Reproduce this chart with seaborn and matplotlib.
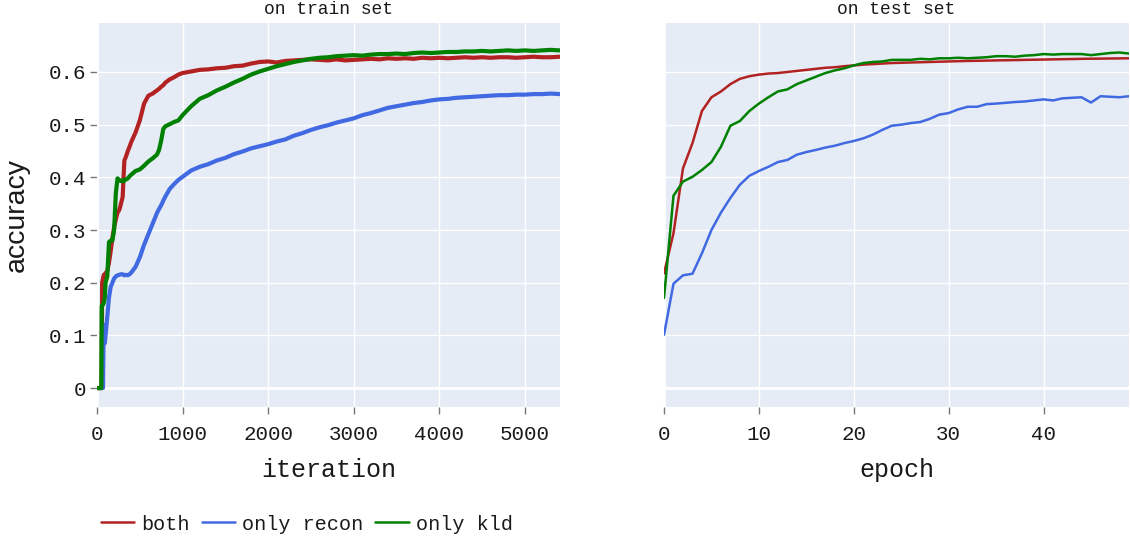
import pandas as pd
import matplotlib.pyplot as plt
import seaborn as sns

# training curves (iteration -> accuracy)
iteration = [0, 50, 55, 60, 70, 75, 80, 90, 100, 120, 140, 160, 180, 200, 220, 240, 260, 280,
             300, 310, 320, 340, 360, 380, 400, 450, 500, 550, 600, 650, 700, 725, 750, 775,
             800, 850, 900, 950, 1000, 1100, 1200, 1300, 1400, 1500, 1600, 1700, 1800, 1900,
             2000, 2100, 2200, 2300, 2400, 2500, 2600, 2700, 2800, 2900, 3000, 3100, 3200,
             3300, 3400, 3500, 3600, 3700, 3800, 3900, 4000, 4100, 4200, 4300, 4400, 4500,
             4600, 4700, 4800, 4900, 5000, 5100, 5200, 5300, 5410]
train_both = [0, 0, 0, 0.2, 0.208, 0.212, 0.215, 0.213, 0.218, 0.222, 0.238, 0.26, 0.285, 0.305,
              0.32, 0.333, 0.338, 0.35, 0.363, 0.40, 0.432, 0.44, 0.45, 0.458, 0.467, 0.485,
              0.508, 0.54, 0.555, 0.559, 0.565, 0.568, 0.572, 0.575, 0.58, 0.586, 0.59, 0.595,
              0.598, 0.601, 0.604, 0.605, 0.607, 0.608, 0.611, 0.612, 0.616, 0.619, 0.620,
              0.618, 0.621, 0.622, 0.623, 0.624, 0.623, 0.622, 0.624, 0.622, 0.623, 0.624,
              0.625, 0.624, 0.626, 0.625, 0.626, 0.625, 0.627, 0.626, 0.627, 0.626, 0.627,
              0.628, 0.627, 0.628, 0.627, 0.628, 0.628, 0.627, 0.628, 0.629, 0.628, 0.628, 0.629]
train_recon = [0, 0, 0, 0, 0, 0.07, 0.12, 0.085, 0.1, 0.135, 0.172, 0.192, 0.2, 0.208, 0.212,
               0.214, 0.215, 0.216, 0.216, 0.215, 0.214, 0.215, 0.214, 0.216, 0.219, 0.23,
               0.248, 0.272, 0.292, 0.312, 0.332, 0.34, 0.347, 0.356, 0.364, 0.378, 0.387,
               0.395, 0.401, 0.413, 0.42, 0.425, 0.432, 0.437, 0.444, 0.449, 0.455, 0.459,
               0.463, 0.468, 0.472, 0.479, 0.484, 0.49, 0.495, 0.499, 0.504, 0.508, 0.512,
               0.518, 0.522, 0.527, 0.532, 0.535, 0.538, 0.541, 0.543, 0.546, 0.548, 0.549,
               0.551, 0.552, 0.553, 0.554, 0.555, 0.556, 0.556, 0.557, 0.557, 0.558, 0.558,
               0.559, 0.558]
train_kld = [0, 0, 0.155, 0.157, 0.158, 0.16, 0.162, 0.17, 0.2, 0.212, 0.277, 0.28, 0.28, 0.30,
             0.37, 0.398, 0.395, 0.393, 0.394, 0.392, 0.395, 0.396, 0.398, 0.402, 0.405, 0.412,
             0.415, 0.422, 0.43, 0.436, 0.443, 0.452, 0.47, 0.492, 0.497, 0.501, 0.505, 0.508,
             0.518, 0.535, 0.549, 0.556, 0.565, 0.572, 0.58, 0.587, 0.595, 0.601, 0.606,
             0.611, 0.615, 0.619, 0.622, 0.625, 0.627, 0.628, 0.63, 0.631, 0.632, 0.631,
             0.633, 0.634, 0.634, 0.635, 0.634, 0.636, 0.637, 0.636, 0.637, 0.638, 0.638,
             0.639, 0.639, 0.640, 0.639, 0.640, 0.641, 0.640, 0.641, 0.640, 0.641, 0.642, 0.641]

# test curves, one point per epoch
epoch = list(range(50))
test_both = [0.2175, 0.294, 0.417, 0.465, 0.526, 0.552, 0.563, 0.577, 0.587, 0.592, 0.595,
             0.597, 0.598, 0.600, 0.602, 0.604, 0.606, 0.608, 0.609, 0.611, 0.6125, 0.614,
             0.615, 0.616, 0.617, 0.6175, 0.618, 0.6185, 0.619, 0.6195, 0.620, 0.6205, 0.621,
             0.6213, 0.6216, 0.622, 0.6223, 0.6226, 0.623, 0.6233, 0.6236, 0.624, 0.6243,
             0.6246, 0.625, 0.6252, 0.6254, 0.6256, 0.6258, 0.626]
test_recon = [0.101, 0.198, 0.214, 0.217, 0.256, 0.300, 0.333, 0.361, 0.386, 0.403, 0.412,
              0.420, 0.429, 0.433, 0.443, 0.448, 0.452, 0.4565, 0.460, 0.465, 0.469, 0.474,
              0.481, 0.490, 0.498, 0.500, 0.503, 0.505, 0.511, 0.519, 0.522, 0.529, 0.534,
              0.534, 0.539, 0.540, 0.5415, 0.543, 0.544, 0.546, 0.548, 0.546, 0.550, 0.551,
              0.552, 0.542, 0.554, 0.553, 0.552, 0.554]
test_kld = [0.171, 0.365, 0.392, 0.401, 0.414, 0.429, 0.458, 0.498, 0.507, 0.526, 0.540,
            0.552, 0.563, 0.567, 0.577, 0.584, 0.591, 0.598, 0.603, 0.607, 0.6125, 0.617,
            0.619, 0.620, 0.623, 0.623, 0.623, 0.625, 0.624, 0.626, 0.626, 0.627, 0.626,
            0.627, 0.628, 0.630, 0.630, 0.629, 0.631, 0.632, 0.634, 0.633, 0.634, 0.634,
            0.634, 0.632, 0.634, 0.636, 0.637, 0.635]

settings = ['both', 'only recon', 'only kld']
colors = ['#B22222', '#4169E1', '#008000']

df_train = pd.concat([
    pd.DataFrame({'iteration': iteration, 'accuracy': v, 'setting': s})
    for s, v in zip(settings, [train_both, train_recon, train_kld])
])
df_test = pd.concat([
    pd.DataFrame({'epoch': epoch, 'accuracy': v, 'setting': s})
    for s, v in zip(settings, [test_both, test_recon, test_kld])
])

sns.set_theme(style='darkgrid', rc={
    'axes.facecolor': '#E5ECF6',
    'grid.color': 'white',
    'grid.linewidth': 1.0,
    'axes.edgecolor': '#E5ECF6',
})
plt.rcParams['font.family'] = ['Liberation Mono', 'DejaVu Sans Mono']

fig = plt.figure(figsize=(11.3, 5.43), dpi=100)
ax1 = fig.add_axes([97 / 1130, 1 - 407 / 543, 463 / 1130, 384 / 543])
ax2 = fig.add_axes([664 / 1130, 1 - 407 / 543, 465 / 1130, 384 / 543], sharey=ax1)

# the train curves are noisy in the original, a wider stroke stands in for the band
sns.lineplot(data=df_train, x='iteration', y='accuracy', hue='setting', hue_order=settings,
             palette=colors, linewidth=3.0, ax=ax1)
sns.lineplot(data=df_test, x='epoch', y='accuracy', hue='setting', hue_order=settings,
             palette=colors, linewidth=1.8, ax=ax2, legend=False)

handles, labels = ax1.get_legend_handles_labels()
ax1.get_legend().remove()
for h in handles:
    h.set_linewidth(1.8)

ax1.set_xlim(0, 5410)
ax2.set_xlim(0, 49)
ax1.set_ylim(-0.036, 0.693)
ax1.set_xticks([0, 1000, 2000, 3000, 4000, 5000])
ax2.set_xticks([0, 10, 20, 30, 40])
ax1.set_yticks([0, 0.1, 0.2, 0.3, 0.4, 0.5, 0.6])
ax1.set_yticklabels([f'{v:g}' for v in ax1.get_yticks()])

for ax in (ax1, ax2):
    ax.axhline(0, color='white', lw=2.0, zorder=1.5)
    ax.axvline(0, color='white', lw=2.0, zorder=1.5)
    for sp in ax.spines.values():
        sp.set_visible(False)
    ax.tick_params(axis='x', bottom=True, length=5, width=1, color='#777777',
                   pad=8, labelsize=15, labelcolor='#1a1a1a')
    ax.set_ylabel('')
ax1.tick_params(axis='y', left=True, length=5, width=1, color='#777777',
                pad=3, labelsize=15, labelcolor='#1a1a1a')
ax2.tick_params(axis='y', left=False, labelleft=False)

ax1.set_xlabel('iteration', fontsize=18, color='#1a1a1a')
ax2.set_xlabel('epoch', fontsize=18, color='#1a1a1a')
for ax in (ax1, ax2):
    ax.xaxis.label.set_va('center')
    ax.xaxis.set_label_coords(0.5, (407 - 470) / 384)

ax1.set_ylabel('accuracy', fontsize=20.5, color='#1a1a1a', family='Liberation Sans')
ax1.yaxis.label.set_va('center')
ax1.yaxis.set_label_coords((17 - 97) / 463, 0.5)

fig.text((97 + 560) / 2 / 1130, 1 - 10 / 543, 'on train set', ha='center', va='center',
         fontsize=13, color='#1a1a1a')
fig.text((664 + 1129) / 2 / 1130, 1 - 10 / 543, 'on test set', ha='center', va='center',
         fontsize=13, color='#1a1a1a')

fig.legend(handles, labels, loc='center left', bbox_to_anchor=(101 / 1130, 1 - 524 / 543),
           ncol=3, frameon=False, fontsize=14.5, handlelength=1.65, handletextpad=0.35,
           columnspacing=0.6, borderpad=0, borderaxespad=0, labelcolor='#1a1a1a')

fig.savefig('out.png', dpi=100)
